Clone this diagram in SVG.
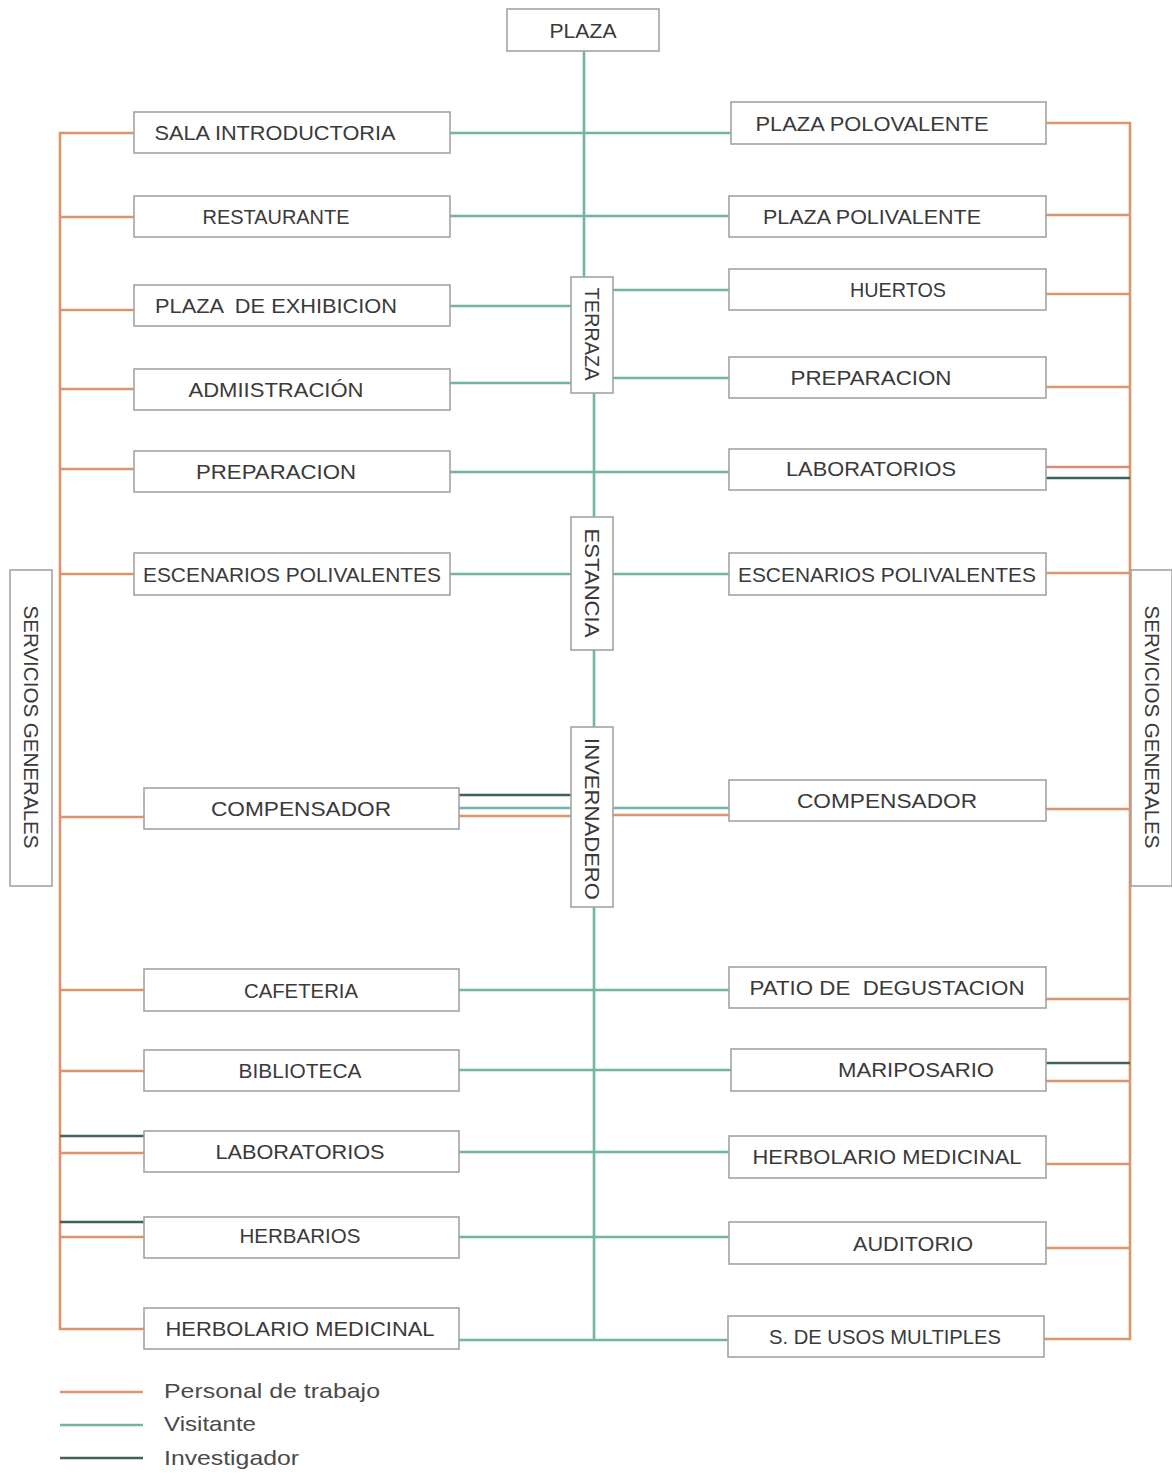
<svg xmlns="http://www.w3.org/2000/svg" width="1172" height="1474" viewBox="0 0 1172 1474">
<style>
.box{fill:#fff;stroke:#a3a3a3;stroke-width:1.6}
.t{font-family:"Liberation Sans",Arial,sans-serif;font-size:21px;fill:#3a3a3a;text-anchor:middle;dominant-baseline:central}
.lg{font-family:"Liberation Sans",Arial,sans-serif;font-size:21px;fill:#4a4a4a;dominant-baseline:central}
.o{stroke:#de946a;stroke-width:2.6;fill:none}
.r{stroke:#e08674;stroke-width:2.6;fill:none}
.v{stroke:#72b5a4;stroke-width:2.6;fill:none}
.d{stroke:#3f625b;stroke-width:2.6;fill:none}
</style>
<rect width="1172" height="1474" fill="#fff"/>
<g id="connectors">
<!-- personal (orange) left spine -->
<path class="o" d="M134 133 H60 V1329 H144"/>
<path class="o" d="M60 217 H134 M60 310 H134 M60 389 H134 M60 469 H134 M60 574 H134 M60 817 H144 M60 990 H144 M60 1071 H144 M60 1153 H144 M60 1237 H144"/>
<path class="d" d="M60 1136 H144 M60 1222 H144"/>
<!-- personal (orange) right spine -->
<path class="o" d="M1046 123 H1130 V1339 H1044"/>
<path class="o" d="M1046 215 H1130 M1046 294 H1130 M1046 387 H1130 M1046 573 H1130 M1046 809 H1130 M1046 999 H1130 M1046 1081 H1130 M1046 1164 H1130 M1046 1248 H1130"/>
<path class="r" d="M1046 467 H1130"/>
<path class="d" d="M1046 478 H1130 M1046 1063 H1130"/>
<!-- visitante central spine -->
<path class="v" d="M584 51 V277"/>
<path class="v" d="M594 393 V517 M594 650 V727 M594 907 V1340"/>
<path class="v" d="M450 133 H731 M450 216 H729"/>
<path class="v" d="M450 306 H571 M613 290 H729 M450 383 H571 M613 378 H729"/>
<path class="v" d="M450 472 H729"/>
<path class="v" d="M450 574 H571 M613 574 H729"/>
<path class="d" d="M459 795 H571"/>
<path class="v" d="M459 808 H571 M613 808 H729"/>
<path class="o" d="M459 816 H571 M613 815 H729"/>
<path class="v" d="M459 990 H729 M459 1070 H731 M459 1152 H729 M459 1237 H729 M459 1340 H728"/>
</g>
<g id="plaza"><rect class="box" x="507" y="9" width="152" height="42"/><text class="t" x="583" y="30" textLength="67" lengthAdjust="spacingAndGlyphs">PLAZA</text></g>
<g id="terraza"><rect class="box" x="571" y="277" width="42" height="116"/><text class="t" transform="rotate(90 592 334)" x="592" y="334" textLength="93" lengthAdjust="spacingAndGlyphs">TERRAZA</text></g>
<g id="estancia"><rect class="box" x="571" y="517" width="42" height="133"/><text class="t" transform="rotate(90 592 583)" x="592" y="583" textLength="109" lengthAdjust="spacingAndGlyphs">ESTANCIA</text></g>
<g id="invernadero"><rect class="box" x="571" y="727" width="42" height="180"/><text class="t" transform="rotate(90 592 819)" x="592" y="819" textLength="162" lengthAdjust="spacingAndGlyphs">INVERNADERO</text></g>
<g id="servicios-izq"><rect class="box" x="10" y="570" width="42" height="316"/><text class="t" transform="rotate(90 31 727)" x="31" y="727" textLength="243" lengthAdjust="spacingAndGlyphs">SERVICIOS GENERALES</text></g>
<g id="servicios-der"><rect class="box" x="1131" y="570" width="41" height="316"/><text class="t" transform="rotate(90 1152 727)" x="1152" y="727" textLength="243" lengthAdjust="spacingAndGlyphs">SERVICIOS GENERALES</text></g>
<!-- left column -->
<g id="sala-introductoria"><rect class="box" x="134" y="112" width="316" height="41"/><text class="t" x="275" y="132" textLength="241" lengthAdjust="spacingAndGlyphs">SALA INTRODUCTORIA</text></g>
<g id="restaurante"><rect class="box" x="134" y="196" width="316" height="41"/><text class="t" x="276" y="216" textLength="147" lengthAdjust="spacingAndGlyphs">RESTAURANTE</text></g>
<g id="plaza-exhibicion"><rect class="box" x="134" y="285" width="316" height="41"/><text class="t" x="276" y="305" textLength="242" lengthAdjust="spacingAndGlyphs" xml:space="preserve">PLAZA  DE EXHIBICION</text></g>
<g id="administracion"><rect class="box" x="134" y="369" width="316" height="41"/><text class="t" x="276" y="389" textLength="175" lengthAdjust="spacingAndGlyphs">ADMIISTRACIÓN</text></g>
<g id="preparacion-izq"><rect class="box" x="134" y="451" width="316" height="41"/><text class="t" x="276" y="471" textLength="160" lengthAdjust="spacingAndGlyphs">PREPARACION</text></g>
<g id="escenarios-izq"><rect class="box" x="134" y="553" width="316" height="42"/><text class="t" x="292" y="574" textLength="298" lengthAdjust="spacingAndGlyphs">ESCENARIOS POLIVALENTES</text></g>
<g id="compensador-izq"><rect class="box" x="144" y="788" width="315" height="41"/><text class="t" x="301" y="808" textLength="180" lengthAdjust="spacingAndGlyphs">COMPENSADOR</text></g>
<g id="cafeteria"><rect class="box" x="144" y="969" width="315" height="42"/><text class="t" x="301" y="990" textLength="114" lengthAdjust="spacingAndGlyphs">CAFETERIA</text></g>
<g id="biblioteca"><rect class="box" x="144" y="1050" width="315" height="41"/><text class="t" x="300" y="1070" textLength="123" lengthAdjust="spacingAndGlyphs">BIBLIOTECA</text></g>
<g id="laboratorios-izq"><rect class="box" x="144" y="1131" width="315" height="41"/><text class="t" x="300" y="1151" textLength="169" lengthAdjust="spacingAndGlyphs">LABORATORIOS</text></g>
<g id="herbarios"><rect class="box" x="144" y="1217" width="315" height="41"/><text class="t" x="300" y="1235" textLength="121" lengthAdjust="spacingAndGlyphs">HERBARIOS</text></g>
<g id="herbolario-izq"><rect class="box" x="144" y="1308" width="315" height="41"/><text class="t" x="300" y="1328" textLength="269" lengthAdjust="spacingAndGlyphs">HERBOLARIO MEDICINAL</text></g>
<!-- right column -->
<g id="plaza-polovalente"><rect class="box" x="731" y="102" width="315" height="42"/><text class="t" x="872" y="123" textLength="233" lengthAdjust="spacingAndGlyphs">PLAZA POLOVALENTE</text></g>
<g id="plaza-polivalente"><rect class="box" x="729" y="196" width="317" height="41"/><text class="t" x="872" y="216" textLength="218" lengthAdjust="spacingAndGlyphs">PLAZA POLIVALENTE</text></g>
<g id="huertos"><rect class="box" x="729" y="269" width="317" height="41"/><text class="t" x="898" y="289" textLength="96" lengthAdjust="spacingAndGlyphs">HUERTOS</text></g>
<g id="preparacion-der"><rect class="box" x="729" y="357" width="317" height="41"/><text class="t" x="871" y="377" textLength="161" lengthAdjust="spacingAndGlyphs">PREPARACION</text></g>
<g id="laboratorios-der"><rect class="box" x="729" y="449" width="317" height="41"/><text class="t" x="871" y="468" textLength="170" lengthAdjust="spacingAndGlyphs">LABORATORIOS</text></g>
<g id="escenarios-der"><rect class="box" x="729" y="553" width="317" height="42"/><text class="t" x="887" y="574" textLength="298" lengthAdjust="spacingAndGlyphs">ESCENARIOS POLIVALENTES</text></g>
<g id="compensador-der"><rect class="box" x="729" y="780" width="317" height="41"/><text class="t" x="887" y="800" textLength="180" lengthAdjust="spacingAndGlyphs">COMPENSADOR</text></g>
<g id="patio-degustacion"><rect class="box" x="729" y="967" width="317" height="41"/><text class="t" x="887" y="987" textLength="275" lengthAdjust="spacingAndGlyphs" xml:space="preserve">PATIO DE  DEGUSTACION</text></g>
<g id="mariposario"><rect class="box" x="731" y="1049" width="315" height="42"/><text class="t" x="916" y="1069" textLength="156" lengthAdjust="spacingAndGlyphs">MARIPOSARIO</text></g>
<g id="herbolario-der"><rect class="box" x="729" y="1136" width="317" height="42"/><text class="t" x="887" y="1156" textLength="269" lengthAdjust="spacingAndGlyphs">HERBOLARIO MEDICINAL</text></g>
<g id="auditorio"><rect class="box" x="729" y="1222" width="317" height="42"/><text class="t" x="913" y="1243" textLength="120" lengthAdjust="spacingAndGlyphs">AUDITORIO</text></g>
<g id="usos-multiples"><rect class="box" x="728" y="1316" width="316" height="41"/><text class="t" x="885" y="1336" textLength="232" lengthAdjust="spacingAndGlyphs">S. DE USOS MULTIPLES</text></g>
<!-- legend -->
<g id="legend">
<line class="o" x1="60" y1="1392" x2="143" y2="1392"/>
<line class="v" x1="60" y1="1425" x2="143" y2="1425"/>
<line class="d" x1="60" y1="1458" x2="143" y2="1458"/>
<text class="lg" x="164" y="1390" textLength="216" lengthAdjust="spacingAndGlyphs">Personal de trabajo</text>
<text class="lg" x="164" y="1423" textLength="92" lengthAdjust="spacingAndGlyphs">Visitante</text>
<text class="lg" x="164" y="1457" textLength="135" lengthAdjust="spacingAndGlyphs">Investigador</text>
</g>
</svg>
